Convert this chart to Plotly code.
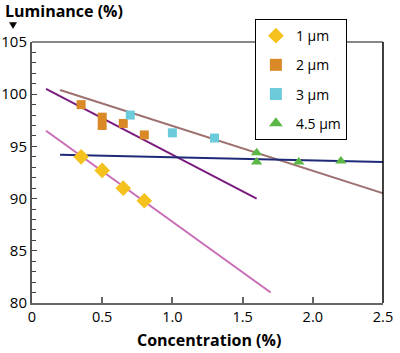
import plotly.graph_objects as go

# Data points
x_1um = [0.35, 0.5, 0.65, 0.8]
y_1um = [94.0, 92.7, 91.0, 89.8]
x_2um = [0.35, 0.5, 0.5, 0.65, 0.8]
y_2um = [99.0, 97.8, 97.0, 97.2, 96.1]
x_3um = [0.7, 1.0, 1.3]
y_3um = [98.0, 96.3, 95.8]
x_45um = [1.6, 1.6, 1.9, 2.2]
y_45um = [94.4, 93.5, 93.5, 93.6]

# Fit lines (endpoints)
fit_1um_x = [0.1, 1.7]
fit_1um_y = [96.5, 81.0]
fit_2um_x = [0.1, 1.6]
fit_2um_y = [100.5, 90.0]
fit_3um_x = [0.2, 2.55]
fit_3um_y = [100.4, 90.3]
fit_45um_x = [0.2, 2.5]
fit_45um_y = [94.2, 93.5]

x_tickvals = [0, 0.5, 1.0, 1.5, 2.0, 2.5]
x_ticktext = ["0", "0.5", "1.0", "1.5", "2.0", "2.5"]
y_tickvals = [80, 85, 90, 95, 100, 105]

FONT = "Open Sans"

fig = go.Figure()

for fx, fy, col in [(fit_1um_x, fit_1um_y, "#C96CB6"),
                    (fit_2um_x, fit_2um_y, "#7A1C7E"),
                    (fit_3um_x, fit_3um_y, "#9E7070"),
                    (fit_45um_x, fit_45um_y, "#1E2A78")]:
    fig.add_trace(go.Scatter(x=fx, y=fy, mode="lines", line=dict(color=col, width=2),
                             showlegend=False, hoverinfo="skip"))

fig.add_trace(go.Scatter(x=x_1um, y=y_1um, mode="markers", name="1 µm", legendgroup="a",
                         marker=dict(symbol="diamond", size=12, color="#F5C11D")))
fig.add_trace(go.Scatter(x=x_2um, y=y_2um, mode="markers", name="2 µm", legendgroup="b",
                         marker=dict(symbol="square", size=9, color="#D98A26")))
fig.add_trace(go.Scatter(x=x_3um, y=y_3um, mode="markers", name="3 µm", legendgroup="c",
                         marker=dict(symbol="square", size=9, color="#6CCBDB")))
fig.add_trace(go.Scatter(x=x_45um, y=y_45um, mode="markers", name="4.5 µm", legendgroup="d",
                         marker=dict(symbol="triangle-up", size=10, color="#5DB747")))

fig.update_layout(
    width=400, height=353,
    margin=dict(l=32, r=17, t=42, b=50),
    plot_bgcolor="white", paper_bgcolor="white",
    font=dict(family=FONT, size=15, color="black"),
    showlegend=True,
    legend=dict(x=0.635, y=1.088, xanchor="left", yanchor="top",
                bgcolor="white", bordercolor="black", borderwidth=1,
                font=dict(family=FONT, size=14, color="black"),
                tracegroupgap=8, itemwidth=30,
                itemsizing="constant"),
    xaxis=dict(range=[0, 2.5], tickvals=x_tickvals, ticktext=x_ticktext,
               ticks="inside", ticklen=6, tickcolor="#666", tickwidth=2,
               showline=True, linecolor="#666", linewidth=2,
               showgrid=False, zeroline=False, mirror=False, automargin=False,
               tickfont=dict(size=14.5)),
    yaxis=dict(range=[80, 105], tickvals=y_tickvals,
               ticks="inside", ticklen=5, tickcolor="#444", tickwidth=1,
               minor=dict(dtick=1, ticks="inside", ticklen=4, tickcolor="#444"),
               showline=True, linecolor="#555", linewidth=2, automargin=False,
               showgrid=False, zeroline=False,
               tickfont=dict(size=15)),
)

# top (gray) and right (black) border
fig.add_shape(type="line", xref="paper", yref="paper", x0=0, x1=1, y0=1, y1=1,
              line=dict(color="#888", width=2), layer="below")
fig.add_shape(type="line", xref="paper", yref="paper", x0=1, x1=1, y0=0, y1=1,
              line=dict(color="black", width=1.5))

# small downward arrowhead under the y-axis title
fig.add_shape(type="path", xref="paper", yref="paper",
              path="M -0.0641,1.0747 L -0.0441,1.0747 L -0.0541,1.0517 Z",
              fillcolor="black", line=dict(color="black", width=0.5))

fig.add_annotation(text="<b>Luminance (%)</b>", xref="paper", yref="paper",
                   x=-0.083, y=1.118, xanchor="left", yanchor="middle",
                   showarrow=False, font=dict(size=16))
fig.add_annotation(text="<b>Concentration (%)</b>", xref="paper", yref="paper",
                   x=0.504, y=-0.143, xanchor="center", yanchor="middle",
                   showarrow=False, font=dict(size=16))

fig.write_html("out.html")
